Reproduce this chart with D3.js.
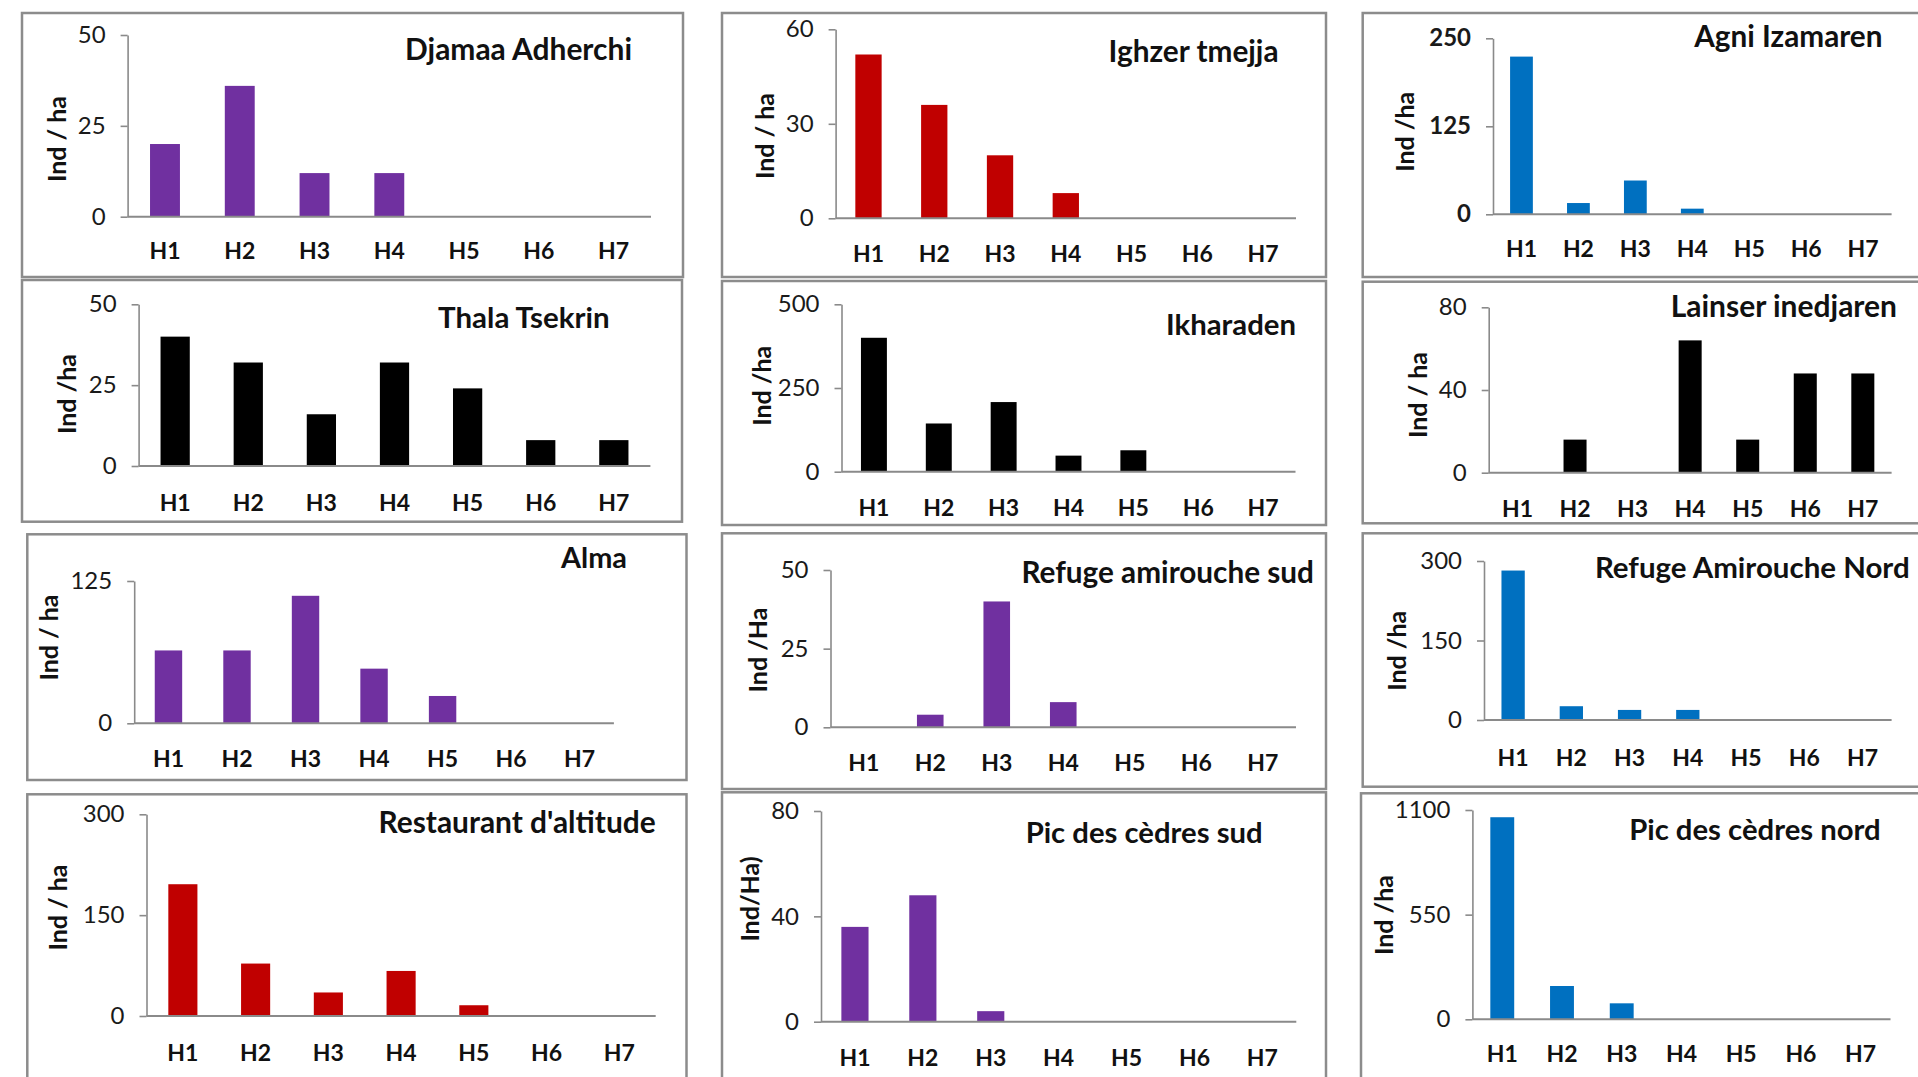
<!DOCTYPE html>
<html>
<head>
<meta charset="utf-8">
<script src="https://cdn.jsdelivr.net/npm/d3@7"></script>
<style>
  html, body { margin: 0; padding: 0; background: #fff; }
  svg { display: block; font-family: Lato, "Open Sans", sans-serif; }
</style>
</head>
<body>
<script>
// ---------- DATA ----------
const categories = ["H1", "H2", "H3", "H4", "H5", "H6", "H7"];

const siteNames = [
  "Djamaa Adherchi", "Ighzer tmejja", "Agni Izamaren",
  "Thala Tsekrin", "Ikharaden", "Lainser inedjaren",
  "Alma", "Refuge amirouche  sud", "Refuge Amirouche Nord",
  "Restaurant d'altitude", "Pic des cèdres sud", "Pic des cèdres nord"
];

const djamaaAdherchi      = [20, 36, 12, 12, 0, 0, 0];
const ighzerTmejja        = [52, 36, 20, 8, 0, 0, 0];
const agniIzamaren        = [224, 16, 48, 8, 0, 0, 0];
const thalaTsekrin        = [40, 32, 16, 32, 24, 8, 8];
const ikharaden           = [400, 144, 208, 48, 64, 0, 0];
const lainserInedjaren    = [0, 16, 0, 64, 16, 48, 48];
const alma                = [64, 64, 112, 48, 24, 0, 0];
const refugeAmiroucheSud  = [0, 4, 40, 8, 0, 0, 0];
const refugeAmiroucheNord = [282, 26, 19, 19, 0, 0, 0];
const restaurantAltitude  = [196, 78, 35, 67, 16, 0, 0];
const picCedresSud        = [36, 48, 4, 0, 0, 0, 0];
const picCedresNord       = [1062, 175, 84, 0, 0, 0, 0];

const seriesValues = [
  djamaaAdherchi, ighzerTmejja, agniIzamaren,
  thalaTsekrin, ikharaden, lainserInedjaren,
  alma, refugeAmiroucheSud, refugeAmiroucheNord,
  restaurantAltitude, picCedresSud, picCedresNord
];

const yTickValues = [
  [0, 25, 50], [0, 30, 60], [0, 125, 250],
  [0, 25, 50], [0, 250, 500], [0, 40, 80],
  [0, 125], [0, 25, 50], [0, 150, 300],
  [0, 150, 300], [0, 40, 80], [0, 550, 1100]
];

const yTitles = [
  "Ind / ha", "Ind / ha", "Ind /ha",
  "Ind /ha", "Ind /ha", "Ind / ha",
  "Ind / ha", "Ind /Ha", "Ind /ha",
  "Ind / ha", "Ind/Ha)", "Ind /ha"
];

const colorNames = [
  "purple", "red", "blue",
  "black", "black", "black",
  "purple", "purple", "blue",
  "red", "purple", "blue"
];

// ---------- STYLE / LAYOUT ----------
const palette = { purple: "#7030A0", red: "#C00000", blue: "#0070C0", black: "#000000" };

// frame [x0,y0,x1,y1], plot [xLeft,xRight,yTop,yBottom], title [xEnd, baseline, width],
// ylab [cx, cy], xlab (center y)
const layout = [
  { frame: [22, 13, 683, 277],        plot: [127.6, 651, 35, 216.7],    title: [632, 60, 227],     ylab: [56, 139],     xlab: 250 },
  { frame: [722, 13, 1326, 277],      plot: [835.6, 1296, 29.3, 218.3], title: [1278.5, 62, 170],  ylab: [764, 136],    xlab: 253.3 },
  { frame: [1362.7, 13, 1925, 277],   plot: [1493, 1891.6, 38.3, 214.3], title: [1882.5, 46.7, 188.5], ylab: [1404, 131.7], xlab: 248.3, boldTicks: true },
  { frame: [22, 280, 682, 521.7],     plot: [138.6, 650.4, 304.3, 466], title: [609.5, 328.3, 171.5], ylab: [66, 394],   xlab: 501.7 },
  { frame: [722, 281, 1326, 525],     plot: [841.5, 1295.5, 304.3, 471.7], title: [1296, 335, 130], ylab: [760.5, 385.8], xlab: 506.7 },
  { frame: [1362.7, 281.7, 1925, 523.3], plot: [1488.7, 1891.6, 307.3, 472.7], title: [1897, 316.7, 226.4], ylab: [1417, 395], xlab: 508.3 },
  { frame: [27.3, 534.3, 686.5, 780], plot: [134.2, 613.9, 581, 723.3], title: [627, 567.7, 66],   ylab: [48.4, 637.5], xlab: 758.3 },
  { frame: [722, 533.3, 1326, 789],   plot: [830.5, 1296, 570, 727.3],  title: [1314, 583.3, 292.6], ylab: [756.5, 650], xlab: 762.3 },
  { frame: [1362.7, 533.3, 1925, 786.7], plot: [1484, 1891.6, 561, 720], title: [1909.7, 578.3, 315], ylab: [1396.4, 650.8], xlab: 756.7 },
  { frame: [27.3, 794.3, 686.5, 1095], plot: [146.5, 655.7, 814.3, 1016], title: [655.7, 833.3, 277.3], ylab: [57, 907.5], xlab: 1051.7 },
  { frame: [722, 792.3, 1326, 1095],  plot: [821, 1296.3, 811, 1021.7], title: [1262.6, 843.3, 237], ylab: [748.6, 899], xlab: 1056.7 },
  { frame: [1361, 793.3, 1925, 1095], plot: [1472.4, 1890.5, 810, 1019.3], title: [1880.7, 840, 251.7], ylab: [1382.6, 915], xlab: 1053.3 }
];

const frameColor = "#8c8c8c";
const axisColor = "#8a8a8a";

const svg = d3.select("body").append("svg")
  .attr("width", 1918).attr("height", 1077);

svg.append("rect").attr("width", 1918).attr("height", 1077).attr("fill", "#fff");

function fitText(sel, base, target) {
  sel.style("font-size", base + "px");
  const w = sel.node().getComputedTextLength();
  if (w > 0) sel.style("font-size", (base * target / w) + "px");
}

layout.forEach((L, i) => {
  const g = svg.append("g");
  const [fx0, fy0, fx1, fy1] = L.frame;
  g.append("rect")
    .attr("x", fx0).attr("y", fy0)
    .attr("width", fx1 - fx0).attr("height", fy1 - fy0)
    .attr("fill", "none").attr("stroke", frameColor).attr("stroke-width", 2.5);

  const [px0, px1, py0, py1] = L.plot;
  const x = d3.scaleBand().domain(categories).range([px0, px1])
    .paddingInner(0.6).paddingOuter(0.3);
  const ticks = yTickValues[i];
  const y = d3.scaleLinear().domain([0, d3.max(ticks)]).range([py1, py0]);
  const color = palette[colorNames[i]];

  // bars
  g.append("g").selectAll("rect")
    .data(seriesValues[i].map((v, j) => ({ c: categories[j], v })))
    .join("rect")
    .attr("x", d => x(d.c))
    .attr("width", x.bandwidth())
    .attr("y", d => y(d.v))
    .attr("height", d => y(0) - y(d.v))
    .attr("fill", color);

  // y axis
  const ya = g.append("g")
    .attr("transform", `translate(${px0},0)`)
    .call(d3.axisLeft(y).tickValues(ticks).tickFormat(d3.format("d"))
      .tickSize(7).tickPadding(15).tickSizeOuter(0));
  ya.select(".domain").attr("stroke", axisColor).attr("stroke-width", 1.6);
  ya.selectAll(".tick line").attr("stroke", axisColor).attr("stroke-width", 1.6);
  ya.selectAll(".tick text")
    .attr("fill", "#1a1a1a")
    .style("font-family", "Lato, sans-serif")
    .style("font-size", "24px")
    .style("font-weight", L.boldTicks ? "bold" : "normal");

  // x axis line
  g.append("line")
    .attr("x1", px0).attr("x2", px1)
    .attr("y1", y(0)).attr("y2", y(0))
    .attr("stroke", axisColor).attr("stroke-width", 2);

  // x category labels
  g.append("g").selectAll("text")
    .data(categories)
    .join("text")
    .attr("x", d => x(d) + x.bandwidth() / 2)
    .attr("y", L.xlab)
    .attr("text-anchor", "middle")
    .attr("dominant-baseline", "central")
    .style("font-size", "23px")
    .style("font-weight", "bold")
    .attr("fill", "#111")
    .text(d => d);

  // title
  const t = g.append("text")
    .attr("x", L.title[0]).attr("y", L.title[1])
    .attr("text-anchor", "end")
    .style("font-weight", "bold")
    .attr("fill", "#111")
    .text(siteNames[i]);
  fitText(t, 26, L.title[2]);

  // y title
  g.append("text")
    .attr("transform", `translate(${L.ylab[0]},${L.ylab[1]}) rotate(-90)`)
    .attr("text-anchor", "middle")
    .attr("dominant-baseline", "central")
    .style("font-weight", "bold")
    .style("font-size", "25px")
    .attr("fill", "#111")
    .text(yTitles[i]);
});
</script>
</body>
</html>
